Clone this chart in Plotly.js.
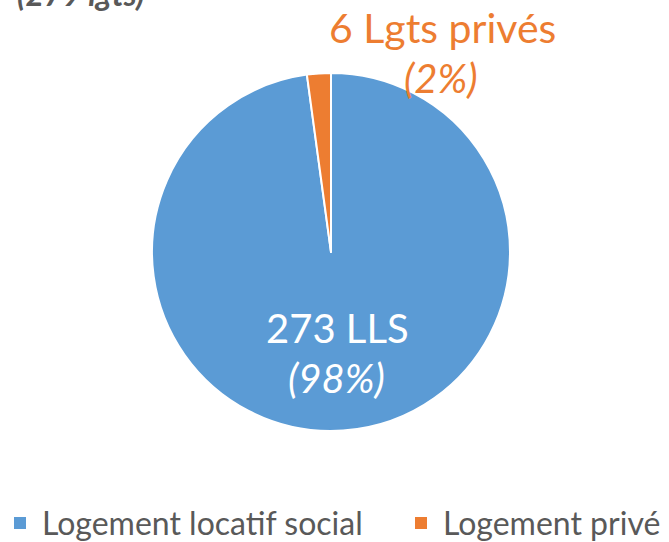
<!DOCTYPE html>
<html><head><meta charset="utf-8">
<script src="https://cdn.plot.ly/plotly-3.0.1.min.js"></script>
<style>html,body{margin:0;padding:0;background:#fff;}</style>
</head><body>
<div id="chart" style="width:669px;height:542px;"></div>
<script>
const categories = ["Logement locatif social", "Logement privé"];
const values = [273, 6];
const labelNames = ["LLS", "Lgts privés"];
const colors = ["#5B9BD5", "#ED7D31"];
const titleText = "(279 lgts)";

const total = values.reduce((a, b) => a + b, 0);
const pct = values.map(v => Math.round(v / total * 100) + "%");

const W = 669, H = 542;
const FONT = "Lato, Open Sans, sans-serif";
const px = x => x / W;
const py = y => (H - y) / H;

const trace = {
  type: "pie",
  labels: categories,
  values: values,
  sort: false,
  direction: "clockwise",
  rotation: 0,
  marker: {colors: colors, line: {color: "#ffffff", width: 2}},
  textinfo: "none",
  hoverinfo: "none",
  domain: {x: [px(152), px(510)], y: [py(431), py(73)]}
};

// legend layout (positions of the legend entries)
const legendX = [14, 415];
const legendY = 523;
const legendShapes = categories.map((c, i) => ({
  type: "rect", xref: "paper", yref: "paper",
  x0: px(legendX[i]), x1: px(legendX[i] + 12), y0: py(legendY + 6), y1: py(legendY - 6),
  fillcolor: colors[i], line: {width: 0}
}));
const legendAnn = categories.map((c, i) => ({
  x: px(legendX[i] + 26), y: py(legendY - 1), xanchor: "left", text: c,
  font: {color: "#595959", size: 32}
}));

const annotations = [
  {x: px(337), y: py(328), text: values[0] + " " + labelNames[0], font: {color: "#ffffff", size: 40}},
  {x: px(336), y: py(378), text: "<i>(" + pct[0] + ")</i>", font: {color: "#ffffff", size: 40}},
  {x: px(442), y: py(28), text: values[1] + " " + labelNames[1], font: {color: colors[1], size: 41}},
  {x: px(441), y: py(78), text: "<i>(" + pct[1] + ")</i>", font: {color: colors[1], size: 40}},
  {x: px(147), y: py(-7), xanchor: "right", text: "<b><i>" + titleText + "</i></b>", font: {color: "#595959", size: 32}}
].concat(legendAnn).map(a => Object.assign({xref: "paper", yref: "paper", showarrow: false, yanchor: "middle", xanchor: a.xanchor || "center"}, a));
annotations.forEach(a => a.font.family = FONT);

const layout = {
  width: W, height: H,
  margin: {l: 0, r: 0, t: 0, b: 0},
  paper_bgcolor: "#ffffff",
  showlegend: false,
  shapes: legendShapes,
  annotations: annotations
};
Plotly.newPlot("chart", [trace], layout, {displayModeBar: false, staticPlot: true});
</script>
</body></html>
